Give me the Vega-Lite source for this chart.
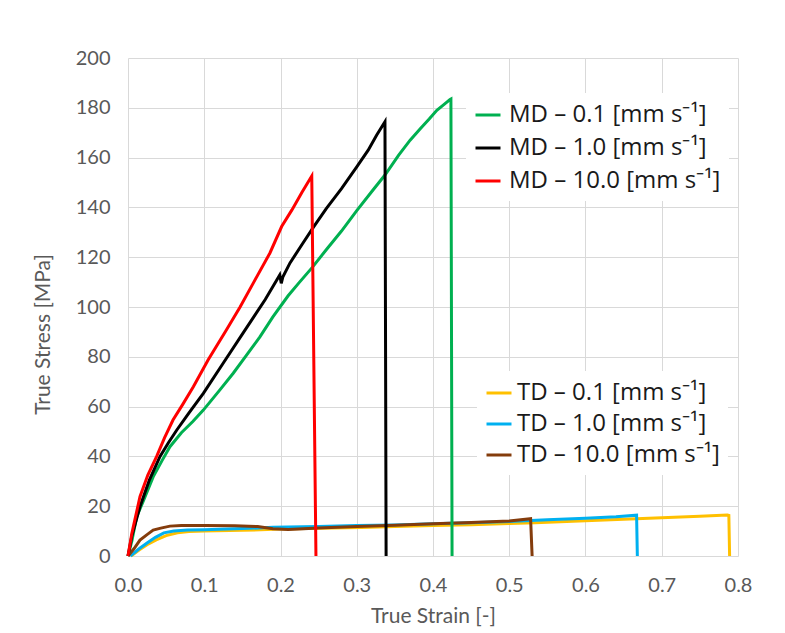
{
  "$schema": "https://vega.github.io/schema/vega-lite/v6.json",
  "width": 610,
  "height": 498,
  "autosize": {"type": "none"},
  "padding": {"left": 128, "top": 58, "right": 47, "bottom": 77},
  "background": "white",
  "config": {
    "font": "Lato",
    "view": {"stroke": null},
    "axis": {
      "gridColor": "#D9D9D9",
      "gridWidth": 1,
      "domain": false,
      "ticks": false,
      "labelColor": "#595959",
      "titleColor": "#595959",
      "labelFontSize": 20,
      "titleFontSize": 21,
      "titleFontWeight": "normal",
      "labelFont": "Lato",
      "titleFont": "Lato",
      "labelFlush": false
    },
    "legend": {
      "labelFont": "Open Sans",
      "labelFontSize": 24,
      "labelColor": "#1a1a1a",
      "symbolType": "stroke",
      "symbolStrokeWidth": 3,
      "symbolSize": 625,
      "fillColor": "white",
      "strokeColor": null,
      "padding": 8,
      "labelLimit": 400
    }
  },
  "datasets": {
    "td": [
      {"s": "TD – 0.1 [mm s⁻¹]", "x": 0.004, "y": 0},
      {"s": "TD – 0.1 [mm s⁻¹]", "x": 0.015, "y": 2.5},
      {"s": "TD – 0.1 [mm s⁻¹]", "x": 0.025, "y": 4.5},
      {"s": "TD – 0.1 [mm s⁻¹]", "x": 0.037, "y": 6.5},
      {"s": "TD – 0.1 [mm s⁻¹]", "x": 0.05, "y": 8.2},
      {"s": "TD – 0.1 [mm s⁻¹]", "x": 0.065, "y": 9.3},
      {"s": "TD – 0.1 [mm s⁻¹]", "x": 0.08, "y": 9.8},
      {"s": "TD – 0.1 [mm s⁻¹]", "x": 0.1, "y": 10},
      {"s": "TD – 0.1 [mm s⁻¹]", "x": 0.15, "y": 10.3},
      {"s": "TD – 0.1 [mm s⁻¹]", "x": 0.2, "y": 10.8},
      {"s": "TD – 0.1 [mm s⁻¹]", "x": 0.25, "y": 11.1},
      {"s": "TD – 0.1 [mm s⁻¹]", "x": 0.306, "y": 11.4},
      {"s": "TD – 0.1 [mm s⁻¹]", "x": 0.35, "y": 11.8},
      {"s": "TD – 0.1 [mm s⁻¹]", "x": 0.4, "y": 12.2},
      {"s": "TD – 0.1 [mm s⁻¹]", "x": 0.45, "y": 12.6},
      {"s": "TD – 0.1 [mm s⁻¹]", "x": 0.5, "y": 13.1},
      {"s": "TD – 0.1 [mm s⁻¹]", "x": 0.534, "y": 13.4},
      {"s": "TD – 0.1 [mm s⁻¹]", "x": 0.6, "y": 14.2},
      {"s": "TD – 0.1 [mm s⁻¹]", "x": 0.65, "y": 14.8},
      {"s": "TD – 0.1 [mm s⁻¹]", "x": 0.7, "y": 15.4},
      {"s": "TD – 0.1 [mm s⁻¹]", "x": 0.75, "y": 16},
      {"s": "TD – 0.1 [mm s⁻¹]", "x": 0.786, "y": 16.5},
      {"s": "TD – 0.1 [mm s⁻¹]", "x": 0.788, "y": 16.3},
      {"s": "TD – 0.1 [mm s⁻¹]", "x": 0.789, "y": 0},
      {"s": "TD – 1.0 [mm s⁻¹]", "x": 0.003, "y": 0},
      {"s": "TD – 1.0 [mm s⁻¹]", "x": 0.015, "y": 3},
      {"s": "TD – 1.0 [mm s⁻¹]", "x": 0.025, "y": 5.2},
      {"s": "TD – 1.0 [mm s⁻¹]", "x": 0.036, "y": 7.5},
      {"s": "TD – 1.0 [mm s⁻¹]", "x": 0.047, "y": 9.3},
      {"s": "TD – 1.0 [mm s⁻¹]", "x": 0.06, "y": 10},
      {"s": "TD – 1.0 [mm s⁻¹]", "x": 0.078, "y": 10.4},
      {"s": "TD – 1.0 [mm s⁻¹]", "x": 0.1, "y": 10.5},
      {"s": "TD – 1.0 [mm s⁻¹]", "x": 0.15, "y": 11},
      {"s": "TD – 1.0 [mm s⁻¹]", "x": 0.19, "y": 11.5},
      {"s": "TD – 1.0 [mm s⁻¹]", "x": 0.25, "y": 11.8},
      {"s": "TD – 1.0 [mm s⁻¹]", "x": 0.3, "y": 12.2},
      {"s": "TD – 1.0 [mm s⁻¹]", "x": 0.35, "y": 12.5},
      {"s": "TD – 1.0 [mm s⁻¹]", "x": 0.4, "y": 13},
      {"s": "TD – 1.0 [mm s⁻¹]", "x": 0.45, "y": 13.4},
      {"s": "TD – 1.0 [mm s⁻¹]", "x": 0.5, "y": 13.9},
      {"s": "TD – 1.0 [mm s⁻¹]", "x": 0.55, "y": 14.6},
      {"s": "TD – 1.0 [mm s⁻¹]", "x": 0.6, "y": 15.2},
      {"s": "TD – 1.0 [mm s⁻¹]", "x": 0.64, "y": 15.8},
      {"s": "TD – 1.0 [mm s⁻¹]", "x": 0.667, "y": 16.4},
      {"s": "TD – 1.0 [mm s⁻¹]", "x": 0.668, "y": 0},
      {"s": "TD – 10.0 [mm s⁻¹]", "x": 0, "y": 0},
      {"s": "TD – 10.0 [mm s⁻¹]", "x": 0.008, "y": 3},
      {"s": "TD – 10.0 [mm s⁻¹]", "x": 0.0157, "y": 6.4},
      {"s": "TD – 10.0 [mm s⁻¹]", "x": 0.025, "y": 8.6},
      {"s": "TD – 10.0 [mm s⁻¹]", "x": 0.033, "y": 10.4},
      {"s": "TD – 10.0 [mm s⁻¹]", "x": 0.043, "y": 11.2},
      {"s": "TD – 10.0 [mm s⁻¹]", "x": 0.055, "y": 12},
      {"s": "TD – 10.0 [mm s⁻¹]", "x": 0.07, "y": 12.2},
      {"s": "TD – 10.0 [mm s⁻¹]", "x": 0.1, "y": 12.2},
      {"s": "TD – 10.0 [mm s⁻¹]", "x": 0.14, "y": 12.1},
      {"s": "TD – 10.0 [mm s⁻¹]", "x": 0.17, "y": 11.8},
      {"s": "TD – 10.0 [mm s⁻¹]", "x": 0.19, "y": 10.9},
      {"s": "TD – 10.0 [mm s⁻¹]", "x": 0.21, "y": 10.6},
      {"s": "TD – 10.0 [mm s⁻¹]", "x": 0.25, "y": 11.2},
      {"s": "TD – 10.0 [mm s⁻¹]", "x": 0.3, "y": 11.8},
      {"s": "TD – 10.0 [mm s⁻¹]", "x": 0.35, "y": 12.3},
      {"s": "TD – 10.0 [mm s⁻¹]", "x": 0.4, "y": 13},
      {"s": "TD – 10.0 [mm s⁻¹]", "x": 0.45, "y": 13.5},
      {"s": "TD – 10.0 [mm s⁻¹]", "x": 0.5, "y": 14.1},
      {"s": "TD – 10.0 [mm s⁻¹]", "x": 0.528, "y": 15},
      {"s": "TD – 10.0 [mm s⁻¹]", "x": 0.53, "y": 0}
    ],
    "md": [
      {"s": "MD – 0.1 [mm s⁻¹]", "x": 0, "y": 0},
      {"s": "MD – 0.1 [mm s⁻¹]", "x": 0.005, "y": 6},
      {"s": "MD – 0.1 [mm s⁻¹]", "x": 0.0114, "y": 15.8},
      {"s": "MD – 0.1 [mm s⁻¹]", "x": 0.02, "y": 22},
      {"s": "MD – 0.1 [mm s⁻¹]", "x": 0.033, "y": 31.8},
      {"s": "MD – 0.1 [mm s⁻¹]", "x": 0.045, "y": 38.5},
      {"s": "MD – 0.1 [mm s⁻¹]", "x": 0.055, "y": 43.9},
      {"s": "MD – 0.1 [mm s⁻¹]", "x": 0.07, "y": 49.5},
      {"s": "MD – 0.1 [mm s⁻¹]", "x": 0.085, "y": 54},
      {"s": "MD – 0.1 [mm s⁻¹]", "x": 0.0988, "y": 58.6},
      {"s": "MD – 0.1 [mm s⁻¹]", "x": 0.12, "y": 66.5},
      {"s": "MD – 0.1 [mm s⁻¹]", "x": 0.138, "y": 73.4},
      {"s": "MD – 0.1 [mm s⁻¹]", "x": 0.155, "y": 80.5},
      {"s": "MD – 0.1 [mm s⁻¹]", "x": 0.173, "y": 88},
      {"s": "MD – 0.1 [mm s⁻¹]", "x": 0.19, "y": 96},
      {"s": "MD – 0.1 [mm s⁻¹]", "x": 0.21, "y": 104.5},
      {"s": "MD – 0.1 [mm s⁻¹]", "x": 0.225, "y": 110},
      {"s": "MD – 0.1 [mm s⁻¹]", "x": 0.242, "y": 116},
      {"s": "MD – 0.1 [mm s⁻¹]", "x": 0.26, "y": 123},
      {"s": "MD – 0.1 [mm s⁻¹]", "x": 0.28, "y": 130.5},
      {"s": "MD – 0.1 [mm s⁻¹]", "x": 0.3, "y": 138.7},
      {"s": "MD – 0.1 [mm s⁻¹]", "x": 0.32, "y": 146.5},
      {"s": "MD – 0.1 [mm s⁻¹]", "x": 0.337, "y": 153},
      {"s": "MD – 0.1 [mm s⁻¹]", "x": 0.355, "y": 161},
      {"s": "MD – 0.1 [mm s⁻¹]", "x": 0.37, "y": 167},
      {"s": "MD – 0.1 [mm s⁻¹]", "x": 0.383, "y": 171.5},
      {"s": "MD – 0.1 [mm s⁻¹]", "x": 0.395, "y": 175.5},
      {"s": "MD – 0.1 [mm s⁻¹]", "x": 0.405, "y": 179},
      {"s": "MD – 0.1 [mm s⁻¹]", "x": 0.415, "y": 181.5},
      {"s": "MD – 0.1 [mm s⁻¹]", "x": 0.4223, "y": 183.3},
      {"s": "MD – 0.1 [mm s⁻¹]", "x": 0.4235, "y": 183.5},
      {"s": "MD – 0.1 [mm s⁻¹]", "x": 0.425, "y": 0},
      {"s": "MD – 1.0 [mm s⁻¹]", "x": 0, "y": 0},
      {"s": "MD – 1.0 [mm s⁻¹]", "x": 0.005, "y": 8},
      {"s": "MD – 1.0 [mm s⁻¹]", "x": 0.0157, "y": 19.8},
      {"s": "MD – 1.0 [mm s⁻¹]", "x": 0.028, "y": 30.5},
      {"s": "MD – 1.0 [mm s⁻¹]", "x": 0.042, "y": 40},
      {"s": "MD – 1.0 [mm s⁻¹]", "x": 0.053, "y": 45.5},
      {"s": "MD – 1.0 [mm s⁻¹]", "x": 0.064, "y": 50.6},
      {"s": "MD – 1.0 [mm s⁻¹]", "x": 0.08, "y": 57.5},
      {"s": "MD – 1.0 [mm s⁻¹]", "x": 0.0988, "y": 65.3},
      {"s": "MD – 1.0 [mm s⁻¹]", "x": 0.125, "y": 77.5},
      {"s": "MD – 1.0 [mm s⁻¹]", "x": 0.153, "y": 90.5},
      {"s": "MD – 1.0 [mm s⁻¹]", "x": 0.18, "y": 103},
      {"s": "MD – 1.0 [mm s⁻¹]", "x": 0.199, "y": 112.9},
      {"s": "MD – 1.0 [mm s⁻¹]", "x": 0.201, "y": 109.5},
      {"s": "MD – 1.0 [mm s⁻¹]", "x": 0.203, "y": 112},
      {"s": "MD – 1.0 [mm s⁻¹]", "x": 0.2125, "y": 117.7},
      {"s": "MD – 1.0 [mm s⁻¹]", "x": 0.228, "y": 125},
      {"s": "MD – 1.0 [mm s⁻¹]", "x": 0.243, "y": 132},
      {"s": "MD – 1.0 [mm s⁻¹]", "x": 0.26, "y": 139.5},
      {"s": "MD – 1.0 [mm s⁻¹]", "x": 0.28, "y": 147.5},
      {"s": "MD – 1.0 [mm s⁻¹]", "x": 0.3, "y": 156.3},
      {"s": "MD – 1.0 [mm s⁻¹]", "x": 0.315, "y": 163},
      {"s": "MD – 1.0 [mm s⁻¹]", "x": 0.326, "y": 169},
      {"s": "MD – 1.0 [mm s⁻¹]", "x": 0.337, "y": 174.4},
      {"s": "MD – 1.0 [mm s⁻¹]", "x": 0.3385, "y": 0},
      {"s": "MD – 10.0 [mm s⁻¹]", "x": 0, "y": 0},
      {"s": "MD – 10.0 [mm s⁻¹]", "x": 0.005, "y": 9},
      {"s": "MD – 10.0 [mm s⁻¹]", "x": 0.0157, "y": 23.8},
      {"s": "MD – 10.0 [mm s⁻¹]", "x": 0.026, "y": 32.5},
      {"s": "MD – 10.0 [mm s⁻¹]", "x": 0.0376, "y": 40},
      {"s": "MD – 10.0 [mm s⁻¹]", "x": 0.048, "y": 47.5},
      {"s": "MD – 10.0 [mm s⁻¹]", "x": 0.059, "y": 54.6},
      {"s": "MD – 10.0 [mm s⁻¹]", "x": 0.072, "y": 61},
      {"s": "MD – 10.0 [mm s⁻¹]", "x": 0.0857, "y": 68},
      {"s": "MD – 10.0 [mm s⁻¹]", "x": 0.105, "y": 78.7},
      {"s": "MD – 10.0 [mm s⁻¹]", "x": 0.129, "y": 90.8},
      {"s": "MD – 10.0 [mm s⁻¹]", "x": 0.147, "y": 100},
      {"s": "MD – 10.0 [mm s⁻¹]", "x": 0.165, "y": 110},
      {"s": "MD – 10.0 [mm s⁻¹]", "x": 0.186, "y": 121.6},
      {"s": "MD – 10.0 [mm s⁻¹]", "x": 0.2015, "y": 132.3},
      {"s": "MD – 10.0 [mm s⁻¹]", "x": 0.215, "y": 139},
      {"s": "MD – 10.0 [mm s⁻¹]", "x": 0.228, "y": 146},
      {"s": "MD – 10.0 [mm s⁻¹]", "x": 0.241, "y": 152.6},
      {"s": "MD – 10.0 [mm s⁻¹]", "x": 0.2465, "y": 0}
    ]
  },
  "encoding": {
    "x": {
      "field": "x",
      "type": "quantitative",
      "scale": {"domain": [0, 0.8], "nice": false},
      "axis": {
        "values": [0, 0.1, 0.2, 0.3, 0.4, 0.5, 0.6, 0.7, 0.8],
        "format": ".1f",
        "title": "True Strain [-]",
        "labelPadding": 19,
        "titlePadding": 10
      }
    },
    "y": {
      "field": "y",
      "type": "quantitative",
      "scale": {"domain": [0, 200], "nice": false},
      "axis": {
        "values": [0, 20, 40, 60, 80, 100, 120, 140, 160, 180, 200],
        "title": "True Stress [MPa]",
        "labelPadding": 18,
        "titleX": -85,
        "titleY": 276,
        "titleAngle": -90,
        "titleAlign": "center",
        "titleBaseline": "middle"
      }
    }
  },
  "layer": [
    {
      "data": {"name": "td"},
      "mark": {"type": "line", "strokeWidth": 3},
      "encoding": {
        "color": {
          "field": "s",
          "type": "nominal",
          "scale": {
            "domain": ["TD – 0.1 [mm s⁻¹]", "TD – 1.0 [mm s⁻¹]", "TD – 10.0 [mm s⁻¹]"],
            "range": ["#FFC000", "#00B0F0", "#843C0C"]
          },
          "legend": {
            "title": null,
            "orient": "none",
            "legendX": 349,
            "legendY": 313,
            "rowPadding": 5,
            "labelOffset": 4
          }
        }
      }
    },
    {
      "data": {"name": "md"},
      "mark": {"type": "line", "strokeWidth": 3},
      "encoding": {
        "color": {
          "field": "s",
          "type": "nominal",
          "scale": {
            "domain": ["MD – 0.1 [mm s⁻¹]", "MD – 1.0 [mm s⁻¹]", "MD – 10.0 [mm s⁻¹]"],
            "range": ["#00B050", "#000000", "#FF0000"]
          },
          "legend": {
            "title": null,
            "orient": "none",
            "legendX": 338,
            "legendY": 35,
            "rowPadding": 7,
            "labelOffset": 7
          }
        }
      }
    }
  ],
  "resolve": {"scale": {"color": "independent"}}
}
